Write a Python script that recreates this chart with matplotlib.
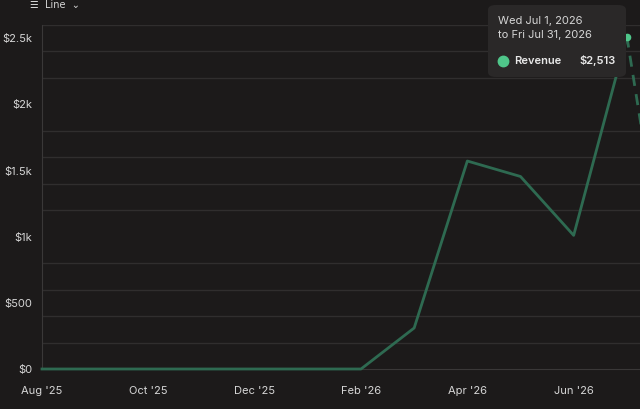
import numpy as np
import matplotlib
matplotlib.use("Agg")
from matplotlib import pyplot as plt
from matplotlib.lines import Line2D
from matplotlib.patches import FancyBboxPatch
from matplotlib.ticker import FuncFormatter, MultipleLocator

plt.rcParams['font.family'] = ['Inter', 'DejaVu Sans']

# monthly revenue, Aug '25 .. Jul '26, plus partial Aug '26
months = ["Aug '25", "Sep '25", "Oct '25", "Nov '25", "Dec '25", "Jan '26",
          "Feb '26", "Mar '26", "Apr '26", "May '26", "Jun '26", "Jul '26", "Aug '26"]
revenue = [0, 0, 0, 0, 0, 0, 0, 310, 1572, 1455, 1010, 2513]
partial = [2513, 0]  # Jul '26 -> Aug '26 (incomplete month)
tick_idx = [0, 2, 4, 6, 8, 10]
y_ticks = [0, 500, 1000, 1500, 2000, 2500]

bg = "#1c1a1a"
line_col = "#2e6a51"
txt = "#d6d6d6"

W, H = 640, 409
fig = plt.figure(figsize=(W / 100, H / 100), dpi=100, facecolor=bg)
# axes spans beyond right edge (chart is cropped)
ax = fig.add_axes([42 / W, 40 / H, 638 / W, 344 / H], facecolor=bg)

x = np.arange(len(revenue))
ax.plot(x, revenue, color=line_col, lw=2, clip_on=False, zorder=3)
ax.plot([11, 12], partial, color=line_col, lw=2, ls=(0, (4, 3)), zorder=3)
ax.scatter([11], [revenue[11]], s=20, color="#4fc68a", zorder=4)

ax.set_xlim(0, 12)
ax.set_ylim(0, 2600)
ax.yaxis.set_minor_locator(MultipleLocator(200))
ax.set_yticks(y_ticks)
ax.grid(False)
ax.grid(which="minor", axis="y", color="#302e2e", lw=1)

def money(v, pos):
    if v >= 1000:
        s = f"{v / 1000:g}k"
    else:
        s = f"{v:g}"
    return "$" + s

ax.yaxis.set_major_formatter(FuncFormatter(money))
ax.set_xticks(tick_idx)
ax.set_xticklabels([months[i] for i in tick_idx])
ax.tick_params(axis="both", which="both", length=0, colors=txt, labelsize=8)
ax.tick_params(axis="x", pad=12)
ax.tick_params(axis="y", pad=7)
for s in ["top", "right"]:
    ax.spines[s].set_visible(False)
ax.spines["left"].set_color("#3a3838")
ax.spines["bottom"].set_color("#3a3838")

# header (mostly scrolled off in the original)
fig.text(30 / W, 1 - 5 / H, "☰  Line  ⌄", color=txt, fontsize=7, va="center", ha="left",
         family=['DejaVu Sans'])

# tooltip
box = FancyBboxPatch((488 / W, 1 - 77 / H), 138 / W, 72 / H,
                     boxstyle="round,pad=0,rounding_size=0.012",
                     transform=fig.transFigure, facecolor="#2a2828",
                     edgecolor="none", zorder=10)
fig.patches.append(box)
fig.text(498 / W, 1 - 21 / H, "Wed Jul 1, 2026", color=txt, fontsize=8, va="center", zorder=11)
fig.text(498 / W, 1 - 35 / H, "to Fri Jul 31, 2026", color=txt, fontsize=8, va="center", zorder=11)
fig.text(514 / W, 1 - 61 / H, "Revenue", color="#e8e8e8", fontsize=8, va="center",
         fontweight="semibold", zorder=11)
fig.text(616 / W, 1 - 61 / H, "$2,513", color="#e8e8e8", fontsize=8, va="center",
         ha="right", fontweight="semibold", zorder=11)
fig.add_artist(Line2D([503 / W], [1 - 61 / H], transform=fig.transFigure, marker="o",
                      markersize=7.5, color="#4fc68a", ls="none", zorder=11))

fig.savefig("out.png", dpi=100, facecolor=bg)
